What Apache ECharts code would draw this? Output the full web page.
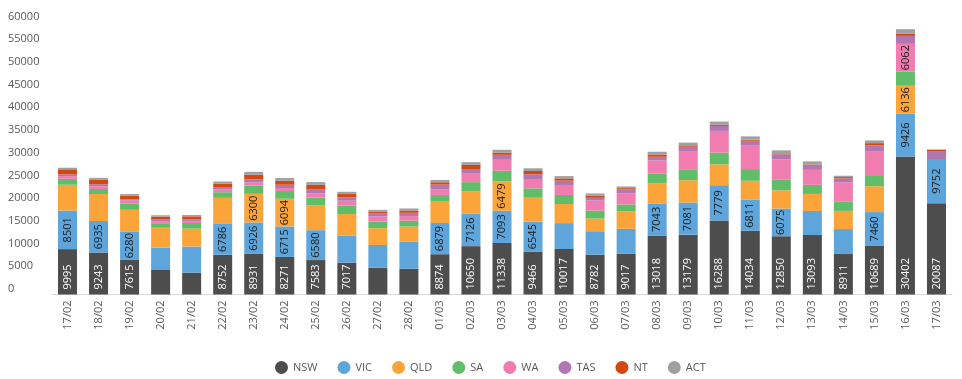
<!DOCTYPE html>
<html>
<head>
<meta charset="utf-8">
<script src="https://cdn.jsdelivr.net/npm/echarts@6/dist/echarts.min.js"></script>
<style>
html,body{margin:0;padding:0;background:#fff;}
#c{width:962px;height:379px;}
</style>
</head>
<body>
<div id="c"></div>
<script>
const categories = ['17/02','18/02','19/02','20/02','21/02','22/02','23/02','24/02','25/02','26/02','27/02','28/02','01/03','02/03','03/03','04/03','05/03','06/03','07/03','08/03','09/03','10/03','11/03','12/03','13/03','14/03','15/03','16/03','17/03'];
const NSW = [9995,9243,7615,5400,4800,8752,8931,8271,7583,7017,5900,5700,8874,10650,11338,9466,10017,8782,9017,13018,13179,16288,14034,12850,13093,8911,10689,30402,20087];
const VIC = [8501,6935,6280,4900,5750,6786,6926,6715,6580,5900,5000,5960,6879,7126,7093,6545,5700,5150,5450,7043,7081,7779,6811,6075,5300,5500,7460,9426,9752];
const QLD = [5670,5950,4750,4400,3950,5740,6300,6094,5500,4800,3700,3300,4700,4900,6479,5300,4200,2800,3900,4400,4900,4600,4200,4000,3750,4000,5700,6136,0];
const SA  = [1300,1100,1330,1000,1250,1250,1800,1700,1700,1840,1470,1300,1470,2060,2350,2060,2000,1760,1470,2200,2280,2570,2570,2430,2000,2000,2430,3160,0];
const WA  = [600,600,700,450,450,600,700,660,880,1100,1100,1000,1180,2000,2400,2060,2200,2200,2400,2870,4000,4780,5150,4400,3300,4260,5300,6062,0];
const TAS = [400,450,300,350,350,500,700,730,950,730,730,730,1100,900,1100,1030,950,600,880,800,1100,1100,1100,1100,1100,880,1250,1760,1760];
const NT  = [1100,1050,800,650,650,800,1000,880,950,730,370,500,500,900,500,730,500,500,300,500,300,300,220,220,100,300,500,450,300];
const ACT = [350,350,350,300,300,450,650,590,600,500,370,450,500,600,600,600,500,450,370,600,600,660,730,660,660,300,600,1030,0];
const yTicks = [0,5000,10000,15000,20000,25000,30000,35000,40000,45000,50000,55000,60000];

const seriesDefs = [
  ['NSW', NSW, '#4D4D4D', '#ffffff'],
  ['VIC', VIC, '#5DA5DA', '#1a1a1a'],
  ['QLD', QLD, '#FAA43A', '#1a1a1a'],
  ['SA',  SA,  '#60BD68', '#1a1a1a'],
  ['WA',  WA,  '#F17CB0', '#1a1a1a'],
  ['TAS', TAS, '#B276B2', '#1a1a1a'],
  ['NT',  NT,  '#D4470F', '#1a1a1a'],
  ['ACT', ACT, '#A0A0A0', '#1a1a1a']
];

const FONT = '"Open Sans", "Noto Sans", sans-serif';
const chart = echarts.init(document.getElementById('c'), null, {renderer:'canvas'});
chart.setOption({
  animation: false,
  backgroundColor: '#fff',
  grid: {left: 52, right: 10, top: 22, bottom: 84.5},
  legend: {
    data: seriesDefs.map(s => s[0]),
    left: 270,
    top: 356,
    icon: 'circle',
    itemWidth: 13,
    itemHeight: 13,
    itemGap: 20,
    textStyle: {color: '#595959', fontSize: 11, fontFamily: FONT}
  },
  xAxis: {
    type: 'category',
    data: categories,
    axisLine: {lineStyle: {color: '#d9d9d9'}},
    axisTick: {show: false},
    axisLabel: {rotate: 90, color: '#595959', fontSize: 11, fontFamily: FONT, margin: 6, interval: 0}
  },
  yAxis: {
    type: 'value',
    min: 0, max: 60000, interval: 5000,
    axisLine: {show: false},
    axisTick: {show: false},
    splitLine: {show: false},
    axisLabel: {
      color: '#595959', fontSize: 11, fontFamily: FONT,
      align: 'left', margin: 44, verticalAlign: 'bottom',
      formatter: v => yTicks.includes(v) ? String(v) : ''
    }
  },
  series: seriesDefs.map(([name, data, color, lc], i) => ({
    name, type: 'bar', stack: 'total', data,
    barWidth: 19,
    itemStyle: {color},
    label: i === 0 ? {
      show: true, position: 'insideBottom', distance: 5, rotate: 90,
      align: 'left', verticalAlign: 'middle',
      color: lc, fontSize: 11, fontFamily: FONT,
      formatter: p => p.value >= 6000 ? String(p.value) : ''
    } : {
      show: true, position: 'inside', rotate: 90,
      color: lc, fontSize: 11, fontFamily: FONT,
      formatter: p => p.value >= 6000 ? String(p.value) : ''
    }
  }))
});
</script>
</body>
</html>
